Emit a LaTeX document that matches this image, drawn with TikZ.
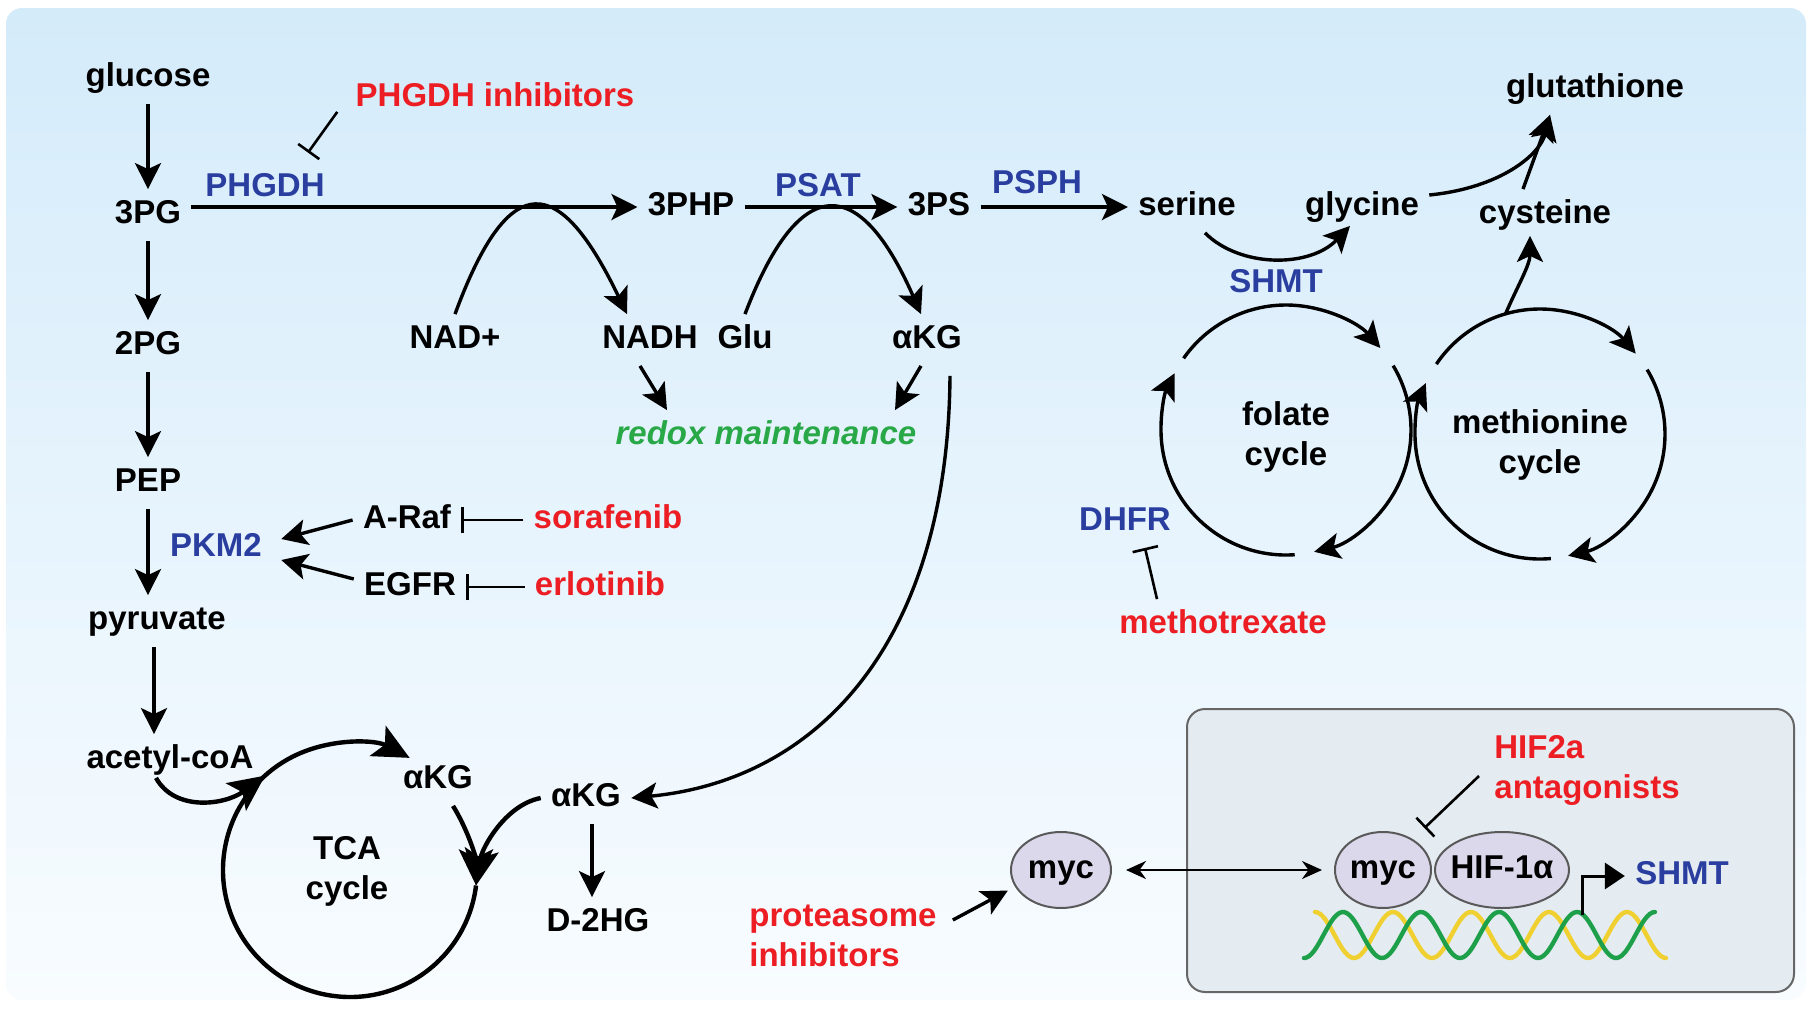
\documentclass[tikz,border=0pt]{standalone}
\usepackage{fontspec}
\setmainfont{Liberation Sans}
\usetikzlibrary{arrows.meta, positioning, shapes.geometric}

\definecolor{enzblue}{RGB}{42,62,160}
\definecolor{drugred}{RGB}{236,30,36}
\definecolor{redoxgreen}{RGB}{40,168,70}
\definecolor{bgtop}{RGB}{212,235,250}
\definecolor{bgbot}{RGB}{248,252,255}
\definecolor{boxfill}{RGB}{228,236,241}
\definecolor{protfill}{RGB}{219,216,236}
\definecolor{dnagreen}{RGB}{30,160,75}
\definecolor{dnayellow}{RGB}{240,208,48}

\begin{document}
\begin{tikzpicture}[x=0.5pt, y=-0.5pt]
\tikzset{
>={Stealth[length=13pt, width=13pt, inset=3pt]}, % filled heads for all reactions
met/.style={font=\fontsize{16.5}{20}\selectfont\bfseries, text height=12pt, text depth=3.5pt, inner sep=5pt}, % metabolites
enz/.style={met, text=enzblue}, % enzymes in blue
drug/.style={met, text=drugred}, % drugs in red
twoline/.style={font=\fontsize{16.5}{20}\selectfont\bfseries, align=center, inner sep=3pt}, % labels on two lines
drugs/.style={twoline, text=drugred, align=left},
redoxst/.style={met, font=\fontsize{16.5}{20}\selectfont\bfseries\itshape, text=redoxgreen},
rxn/.style={->, line width=1.7pt}, % reaction arrows
inh/.style={-{Bar[width=13pt]}, line width=1.3pt}, % inhibition
big/.style={-{Stealth[length=18pt, width=17pt, inset=4pt]}, line width=2.2pt}, % TCA cycle
prot/.style={ellipse, draw=black!65, fill=protfill, line width=1pt, inner sep=0pt, minimum height=38pt, font=\fontsize{16.5}{20}\selectfont\bfseries, text height=12pt, text depth=3.5pt},
}
\useasboundingbox (0,0) rectangle (1812,1013);
\fill[white] (0,0) rectangle (1812,1013);
\shade[top color=bgtop, bottom color=bgbot, rounded corners=8pt] (6,8) rectangle (1806,1000);
\draw[fill=boxfill, draw=black!60, line width=1pt, rounded corners=9pt] (1187,709) rectangle (1794,992);

	% glycolysis
	\node[met] (glc) at (148,78) {glucose};
	\node[met] (pg3) at (148,215) {3PG};
	\node[met] (pg2) at (148,346) {2PG};
	\node[met] (pep) at (148,483) {PEP};
	\node[met] (pyr) at (157,621) {pyruvate};
	\node[met] (acoa) at (170,760) {acetyl-coA};
	\node[enz] (pkm2) at (216,548) {PKM2};
	\node[met] (araf) at (407,520) {A-Raf};
	\node[met] (egfr) at (410,587) {EGFR};
	\node[drug] (sora) at (608,520) {sorafenib};
	\node[drug] (erlo) at (600,587) {erlotinib};

	% serine synthesis
	\node[enz] (phgdh) at (265,188) {PHGDH};
	\node[drug] (phgdhi) at (495,98) {PHGDH inhibitors};
	\node[met] (php) at (691,207) {3PHP};
	\node[enz] (psat) at (818,188) {PSAT};
	\node[met] (ps) at (939,207) {3PS};
	\node[enz] (psph) at (1037,185) {PSPH};
	\node[met] (ser) at (1187,207) {serine};
	\node[met] (gly) at (1362,207) {glycine};
	\node[met] (cys) at (1545,215) {cysteine};
	\node[met] (gsh) at (1595,89) {glutathione};
	\node[enz] (shmt) at (1276,284) {SHMT};
	\node[met] (nad) at (455,340) {NAD+};
	\node[met] (nadh) at (650,340) {NADH};
	\node[met] (glu) at (745,340) {Glu};
	\node[met] (akga) at (927,340) {αKG};
	\node[redoxst] (redox) at (766,436) {redox maintenance};

	% one-carbon cycles
	\coordinate (fc) at (1286,430);
	\coordinate (mc) at (1540,434);
	\node[twoline] (fol) at (1286,437) {folate\\cycle};
	\node[twoline] (meth) at (1540,445) {methionine\\cycle};
	\node[enz] (dhfr) at (1125,522) {DHFR};
	\node[drug] (mtx) at (1223,625) {methotrexate};

	% TCA cycle
	\coordinate (tc) at (350,870);
	\node[twoline] (tca) at (347,871) {TCA\\cycle};
	\node[met] (akgb) at (438,780) {αKG};
	\node[met] (akgc) at (586,798) {αKG};
	\node[met] (d2hg) at (598,923) {D-2HG};

	% myc
	\node[drugs, anchor=west] (prot) at (743,936) {proteasome\\inhibitors};
	\node[prot, minimum width=50pt] (myca) at (1061,870) {myc};
	\node[drugs, anchor=west] (hifi) at (1488,770) {HIF2a\\antagonists};
	\coordinate (tss) at (1582,915);

	\draw[dnayellow, line width=2.2pt, line cap=round] plot[domain=0:4.5, samples=140, smooth] ({1315+78*\x}, {935-23*cos(360*\x)});
	\draw[dnagreen, line width=2.2pt, line cap=round] plot[domain=0:4.5, samples=140, smooth] ({1304+78*\x}, {935+23*cos(360*\x)});
	\node[prot, minimum width=48pt] (mycb) at (1383,870) {myc};
	\node[prot, minimum width=67pt] (hif) at (1502,870) {\makebox[0pt]{HIF-1α}};
	\node[enz] (shmtb) at (1682,876) {SHMT};

	% glycolysis arrows
	\draw[rxn] (glc) -- (pg3);
	\draw[rxn] (pg3) -- (pg2);
	\draw[rxn] (pg2) -- (pep);
	\draw[rxn] (pep) -- (pep |- pyr.north);
	\draw[rxn] ([xshift=-1.5pt]pyr.south) -- ([xshift=-1.5pt]pyr.south |- acoa.north);
	\draw[rxn] (araf.west) -- ([shift={(4.5pt,4.5pt)}]pkm2.east);
	\draw[rxn] ([yshift=4pt]egfr.west) -- ([shift={(4.5pt,-6pt)}]pkm2.east);
	\draw[inh] (sora) -- (araf);
	\draw[inh] (erlo) -- (egfr);

	% serine arrows
	\draw[rxn] (pg3.east |- php) -- (php);
	\draw[rxn] (php) -- (ps);
	\draw[rxn] (ps) -- (ser);
	\draw[inh] ([shift={(-4pt,6pt)}]phgdhi.south west) -- ([shift={(21.5pt,4.75pt)}]phgdh.north);
	\draw[rxn] (nad.north) .. controls (510,165) and (560,175) .. ([xshift=-11.5pt]nadh.north);
	\draw[rxn] (glu.north) .. controls (800,170) and (860,175) .. ([xshift=-3pt]akga.north);
	\draw[rxn] ([xshift=-5pt]nadh.south) -- ([xshift=-49.5pt]redox.north);
	\draw[rxn] ([xshift=-3pt]akga.south) -- ([xshift=64.5pt]redox.north);
	\draw[rxn] ([shift={(11.5pt,-5pt)}]akga.south) .. controls (948,640) and (820,780) .. (akgc.east);
	\draw[rxn] ([xshift=9pt]ser.south) .. controls (1240,268) and (1310,268) .. ([shift={(-6pt,3.5pt)}]gly.south);
	\draw[rxn] ([yshift=6pt]gly.east) .. controls (1500,188) and (1540,155) .. ([xshift=-22.5pt]gsh.south);
	\draw[rxn] ([xshift=-11pt]cys.north) -- ([xshift=-22.5pt]gsh.south);

	% cycle arcs
	\draw[rxn] ([shift={(-145:125)}]fc) arc (-145:-41:125);
	\draw[rxn] ([shift={(-31:125)}]fc) arc (-31:77:125);
	\draw[rxn] ([shift={(86:125)}]fc) arc (86:207:125);
	\draw[rxn] ([shift={(-146:125)}]mc) arc (-146:-40:125);
	\draw[rxn] ([shift={(-31:125)}]mc) arc (-31:77:125);
	\draw[rxn] ([shift={(85:125)}]mc) arc (85:204:125);
	\draw[rxn] ([shift={(-106:125)}]mc) .. controls (1518,285) and (1530,265) .. ([shift={(-7.5pt,2.5pt)}]cys.south);
	\draw[inh] ([xshift=-33pt]mtx.north) -- ([xshift=10pt]dhfr.south);

	% TCA arrows
	\draw[big] ([shift={(7:127)}]tc) arc (7:298:127);
	\draw[big] ([shift={(-7pt,4pt)}]acoa.south) .. controls (175,812) and (225,805) .. ([shift={(-132:127)}]tc);
	\draw[big] ([xshift=7.5pt]akgb.south) .. controls (468,830) and (476,858) .. ([shift={(7:127)}]tc);
	\draw[big] (akgc.west) .. controls (505,805) and (482,848) .. ([shift={(7:127)}]tc);
	\draw[rxn] ([xshift=3pt]akgc.south) -- ([xshift=3pt]akgc.south |- d2hg.north);

	% myc arrows
	\draw[rxn, shorten >=4pt] ([shift={(5pt,8pt)}]prot.east) -- (myca.200);
	\draw[{Stealth[length=10pt,width=9pt]}-{Stealth[length=10pt,width=9pt]}, line width=1.4pt, shorten <=7pt, shorten >=6pt] (myca) -- (mycb);
	\draw[inh, shorten >=8pt] ([shift={(-4.5pt,-3pt)}]hifi.west) -- (mycb.46);
	\draw[-{Triangle[length=10pt,width=13pt]}, line width=1.5pt] (tss) |- (shmtb);
\end{tikzpicture}
\end{document}
